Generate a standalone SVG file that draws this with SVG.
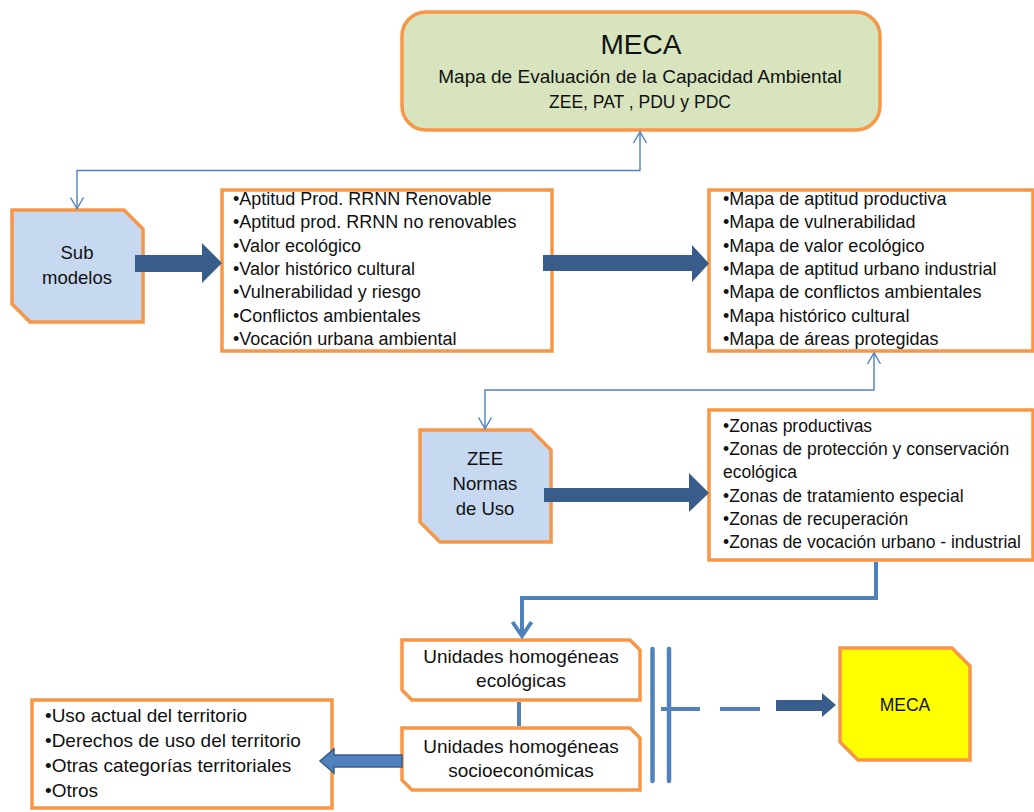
<svg xmlns="http://www.w3.org/2000/svg" width="1034" height="812" viewBox="0 0 1034 812">
  <style>
    text { font-family: "Liberation Sans", Arial, sans-serif; fill: #111; }
    .box { stroke: #f79646; stroke-width: 3.5; stroke-linejoin: miter; }
    .blue { fill: #c6d9f1; }
    .white { fill: #ffffff; }
    .c { text-anchor: middle; }
    .l18 { font-size: 18px; }
    .thin { fill: none; stroke: #4f81bd; stroke-width: 1.4; }
    .thick { fill: none; stroke: #4f81bd; stroke-width: 4; }
    .blk { fill: #385d8a; }
  </style>
  <defs>
    <marker id="openThin" markerUnits="userSpaceOnUse" viewBox="0 0 14 16" markerWidth="14" markerHeight="16" refX="12" refY="8" orient="auto-start-reverse">
      <polyline points="1,1.5 12,8 1,14.5" fill="none" stroke="#4f81bd" stroke-width="1.4"/>
    </marker>
    <marker id="openThick" markerUnits="userSpaceOnUse" viewBox="0 0 20 24" markerWidth="20" markerHeight="24" refX="16" refY="12" orient="auto">
      <polyline points="2,2.5 16,12 2,21.5" fill="none" stroke="#4f81bd" stroke-width="4" stroke-linejoin="miter"/>
    </marker>
  </defs>

  <rect width="1034" height="812" fill="#ffffff"/>

  <g id="meca-top">
    <rect x="402" y="12" width="478" height="118" rx="24" ry="24" fill="#d7e4bd" stroke="#f79646" stroke-width="3.5"/>
    <text class="c" x="641" y="54" font-size="28">MECA</text>
    <text class="c" x="640" y="83" font-size="19">Mapa de Evaluación de la Capacidad Ambiental</text>
    <text class="c" x="640" y="108" font-size="17.5">ZEE, PAT , PDU y PDC</text>
  </g>

  <g id="sub-modelos">
    <polygon class="box blue" points="12,210 124,210 143,229 143,322 30,322 12,304"/>
    <text class="c" x="77" y="259" font-size="18.5">Sub</text>
    <text class="c" x="77" y="284" font-size="18.5">modelos</text>
  </g>

  <g id="lista-submodelos">
    <rect class="box white" x="222" y="190" width="330" height="161"/>
    <text class="l18" x="233" y="205">•Aptitud Prod. RRNN Renovable</text>
    <text class="l18" x="233" y="228.3">•Aptitud prod. RRNN no renovables</text>
    <text class="l18" x="233" y="251.6">•Valor ecológico</text>
    <text class="l18" x="233" y="274.9">•Valor histórico cultural</text>
    <text class="l18" x="233" y="298.2">•Vulnerabilidad y riesgo</text>
    <text class="l18" x="233" y="321.5">•Conflictos ambientales</text>
    <text class="l18" x="233" y="344.8">•Vocación urbana ambiental</text>
  </g>

  <g id="lista-mapas">
    <rect class="box white" x="709" y="190" width="324" height="161"/>
    <text class="l18" x="723" y="205">•Mapa de aptitud productiva</text>
    <text class="l18" x="723" y="228.3">•Mapa de vulnerabilidad</text>
    <text class="l18" x="723" y="251.6">•Mapa de valor ecológico</text>
    <text class="l18" x="723" y="274.9">•Mapa de aptitud urbano industrial</text>
    <text class="l18" x="723" y="298.2">•Mapa de conflictos ambientales</text>
    <text class="l18" x="723" y="321.5">•Mapa histórico cultural</text>
    <text class="l18" x="723" y="344.8">•Mapa de áreas protegidas</text>
  </g>

  <g id="zee-normas">
    <polygon class="box blue" points="420,430 531,430 551,450 551,542 440,542 420,522"/>
    <text class="c" x="485" y="465" font-size="18.5">ZEE</text>
    <text class="c" x="485" y="490" font-size="18.5">Normas</text>
    <text class="c" x="485" y="515" font-size="18.5">de Uso</text>
  </g>

  <g id="lista-zonas">
    <rect class="box white" x="709" y="410" width="324" height="150"/>
    <text x="723" y="431.7" font-size="17.5">•Zonas productivas</text>
    <text x="723" y="455" font-size="17.5">•Zonas de protección y conservación</text>
    <text x="723" y="478.3" font-size="17.5">ecológica</text>
    <text x="723" y="501.6" font-size="17.5">•Zonas de tratamiento especial</text>
    <text x="723" y="524.9" font-size="17.5">•Zonas de recuperación</text>
    <text x="723" y="548.2" font-size="17.5">•Zonas de vocación urbano - industrial</text>
  </g>

  <g id="unidades-ecologicas">
    <polygon class="box white" points="402,640 630,640 640,650 640,700 412,700 402,690"/>
    <text class="c" x="521" y="663" font-size="19">Unidades homogéneas</text>
    <text class="c" x="521" y="687" font-size="19">ecológicas</text>
  </g>

  <g id="unidades-socioeconomicas">
    <polygon class="box white" points="402,728 630,728 640,738 640,790 412,790 402,780"/>
    <text class="c" x="521" y="753" font-size="19">Unidades homogéneas</text>
    <text class="c" x="521" y="777" font-size="19">socioeconómicas</text>
  </g>

  <g id="meca-final">
    <polygon class="box" fill="#ffff00" points="840,648 952,648 970,666 970,760 858,760 840,742"/>
    <text class="c" x="905" y="711" font-size="17.5">MECA</text>
  </g>

  <g id="lista-territorio">
    <rect class="box white" x="32" y="700" width="300" height="108"/>
    <text x="45" y="721.7" font-size="19">•Uso actual del territorio</text>
    <text x="45" y="746.7" font-size="19">•Derechos de uso del territorio</text>
    <text x="45" y="771.7" font-size="19">•Otras categorías territoriales</text>
    <text x="45" y="797" font-size="19">•Otros</text>
  </g>

  <g id="connectors">
    <path class="thin" d="M640,132 V170.5 H77 V208.5" marker-start="url(#openThin)" marker-end="url(#openThin)"/>
    <path class="thin" d="M874,353 V390 H485 V428.5" marker-start="url(#openThin)" marker-end="url(#openThin)"/>
    <path class="thick" d="M876,562 V598 H522 V636" marker-end="url(#openThick)"/>
    <line class="thick" x1="519" y1="702" x2="519" y2="726"/>
    <line x1="652.5" y1="649" x2="652.5" y2="781" stroke="#4f81bd" stroke-width="4.5" stroke-linecap="round"/>
    <line x1="669" y1="649" x2="669" y2="781" stroke="#4f81bd" stroke-width="4.5" stroke-linecap="round"/>
    <line class="thick" x1="661" y1="709" x2="700" y2="709"/>
    <line class="thick" x1="720" y1="709" x2="760" y2="709"/>
    <polygon class="blk" points="135,255 202,255 202,243 222,263 202,283 202,272 135,272"/>
    <polygon class="blk" points="543,255 692,255 692,245 709,263.5 692,282 692,271 543,271"/>
    <polygon class="blk" points="544,488 689,488 689,473 709,493 689,512 689,502 544,502"/>
    <polygon class="blk" points="776,700 822,700 822,693 836,705 822,717 822,711 776,711"/>
    <polygon points="402,755 334,755 334,749 320,761 334,773 334,767 402,767" fill="#4f81bd" stroke="#385d8a" stroke-width="1.5"/>
  </g>
</svg>
